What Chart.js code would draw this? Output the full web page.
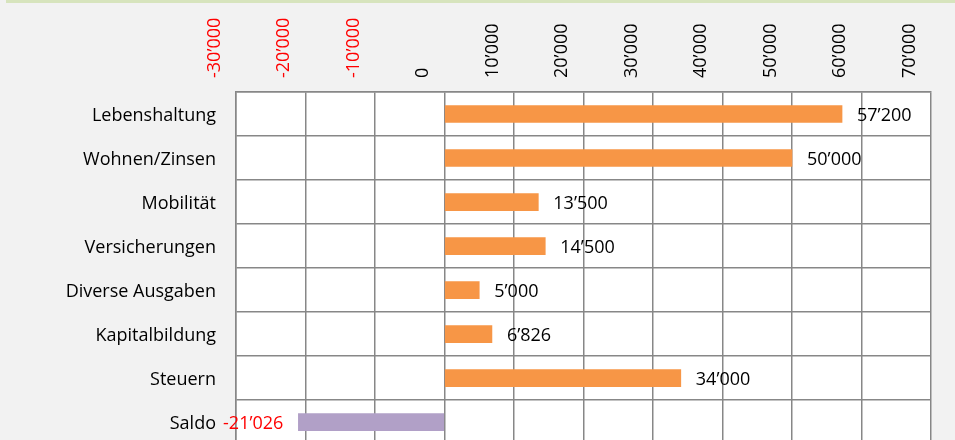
<!DOCTYPE html>
<html>
<head>
<meta charset="utf-8">
<script src="https://cdn.jsdelivr.net/npm/chart.js@4"></script>
<style>
  html, body { margin: 0; padding: 0; background: #f2f2f2; overflow: hidden; }
  #topline { position: absolute; left: 6px; right: 0; top: 0; height: 3px; background: #d7e4bd; z-index: 2; }
  #budgetChart { position: absolute; left: 0; top: 0; }
</style>
</head>
<body>
<div id="topline"></div>
<canvas id="budgetChart" width="955" height="475"></canvas>
<script>
const categories = ['Lebenshaltung', 'Wohnen/Zinsen', 'Mobilität', 'Versicherungen',
    'Diverse Ausgaben', 'Kapitalbildung', 'Steuern', 'Saldo'];
const amounts = [57200, 50000, 13500, 14500, 5000, 6826, 34000, -21026];
const axisMin = -30000;
const axisMax = 70000;
const axisStep = 10000;

const FONT = '"Open Sans", "Noto Sans", sans-serif';

// Swiss style thousands separator
function fmt(v) {
    const s = Math.abs(Math.round(v)).toString().replace(/\B(?=(\d{3})+(?!\d))/g, '\u2019');
    return (v < 0 ? '-' : '') + s;
}

// white plot area
const plotBackground = {
    id: 'plotBackground',
    beforeDraw(chart) {
        const a = chart.chartArea;
        chart.ctx.save();
        chart.ctx.fillStyle = '#ffffff';
        chart.ctx.fillRect(a.left, a.top, a.right - a.left, a.bottom - a.top);
        chart.ctx.restore();
    }
};

// value labels next to bars
const valueLabels = {
    id: 'valueLabels',
    afterDatasetsDraw(chart) {
        const ctx = chart.ctx;
        const meta = chart.getDatasetMeta(0);
        ctx.save();
        ctx.font = '18px ' + FONT;
        ctx.textBaseline = 'middle';
        meta.data.forEach((bar, i) => {
            const v = amounts[i];
            if (v < 0) {
                ctx.fillStyle = '#ff0000';
                ctx.textAlign = 'right';
                ctx.fillText(fmt(v), bar.x - 15, bar.y + 2);
            } else {
                ctx.fillStyle = '#000000';
                ctx.textAlign = 'left';
                ctx.fillText(fmt(v), bar.x + 15, bar.y + 2);
            }
        });
        ctx.restore();
    }
};

const ctx = document.getElementById('budgetChart').getContext('2d');
const chart = new Chart(ctx, {
    type: 'bar',
    data: {
        labels: categories,
        datasets: [{
            data: amounts,
            backgroundColor: amounts.map(v => v < 0 ? '#b1a0c7' : '#f79646'),
            borderWidth: 0,
            barThickness: 17
        }]
    },
    options: {
        indexAxis: 'y',
        responsive: false,
        animation: false,
        layout: { padding: { left: 0, right: 24, top: 0, bottom: 8 } },
        plugins: {
            legend: { display: false },
            tooltip: { enabled: false }
        },
        scales: {
            x: {
                position: 'top',
                min: axisMin,
                max: axisMax,
                border: { display: true, color: '#878787', width: 1.5 },
                grid: { color: '#878787', lineWidth: 1.5, drawTicks: false },
                ticks: {
                    stepSize: axisStep,
                    minRotation: 90,
                    maxRotation: 90,
                    padding: 14,
                    font: { family: FONT, size: 18 },
                    color: c => c.tick && c.tick.value < 0 ? '#ff0000' : '#000000',
                    callback: v => fmt(v)
                },
                afterFit: s => { s.height = 92; }
            },
            y: {
                border: { display: true, color: '#878787', width: 1.5 },
                grid: { color: '#878787', lineWidth: 1.5, drawTicks: false },
                ticks: {
                    padding: 20,
                    labelOffset: 2,
                    font: { family: FONT, size: 18 },
                    color: '#000000'
                },
                afterFit: s => { s.width = 236; }
            }
        }
    },
    plugins: [plotBackground, valueLabels]
});
</script>
</body>
</html>
